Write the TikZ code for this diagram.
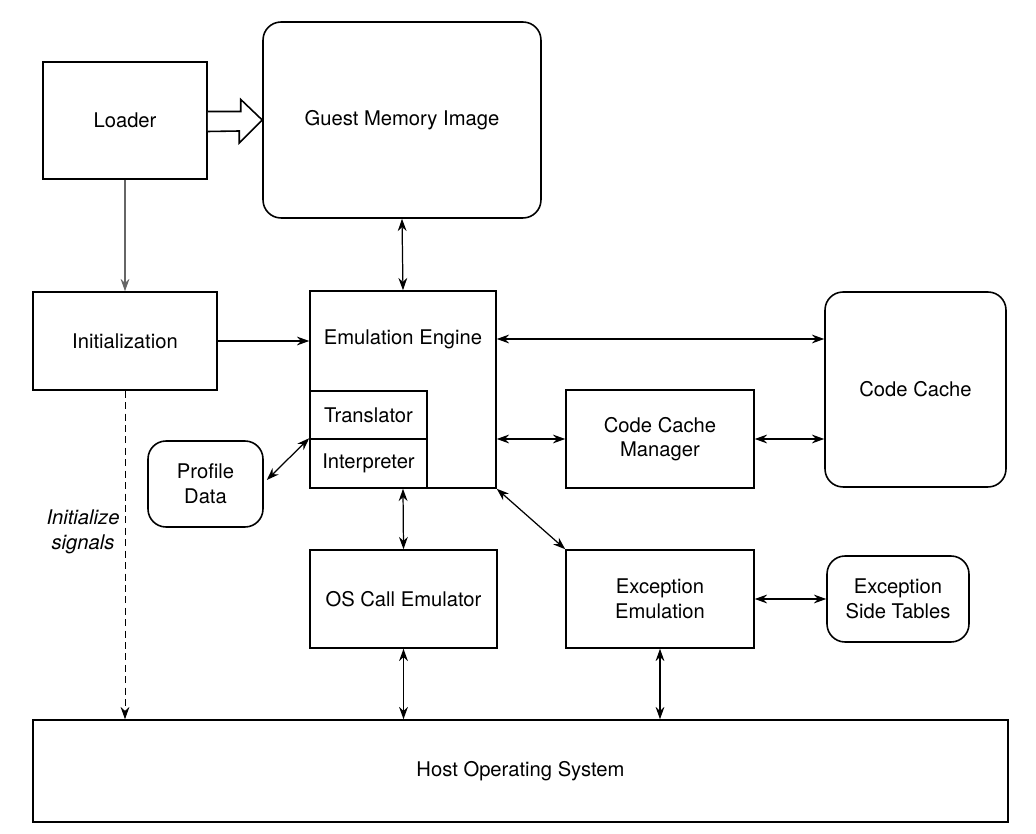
\documentclass[tikz,border=0pt]{standalone}
\usepackage{fontspec}
\setmainfont{TeX Gyre Heros}
\usetikzlibrary{arrows.meta,calc}
\begin{document}
\begin{tikzpicture}[x=0.02cm,y=-0.02cm,
  every node/.style={font=\fontsize{11.5}{14}\selectfont},
  box/.style={draw,line width=0.9pt,inner sep=0pt,align=center},
  rbox/.style={box,rounded corners=0.36cm},
  conn/.style={line width=0.7pt,{Stealth[length=7pt,width=5pt]}-{Stealth[length=7pt,width=5pt]}},
  oneway/.style={line width=0.7pt,-{Stealth[length=7pt,width=5pt]}}]
\useasboundingbox (0,0) rectangle (1036,834);
\node[box,minimum width=3.28cm,minimum height=2.34cm] (loader) at (125,120.5) {Loader};
\node[rbox,minimum width=5.56cm,minimum height=3.92cm] (gm) at (402,120) {Guest Memory Image};
\node[box,minimum width=3.68cm,minimum height=1.96cm] (init) at (125,341) {Initialization};
\node[box,minimum width=3.72cm,minimum height=3.94cm] (ee) at (403,389.5) {};
\node (eetext) at (403,339) {Emulation Engine};
\node[box,minimum width=2.34cm,minimum height=0.96cm] (trans) at (368.5,415) {Translator};
\node[box,minimum width=2.34cm,minimum height=0.98cm] (interp) at (368.5,463.5) {Interpreter};
\node[rbox,minimum width=3.62cm,minimum height=3.9cm] (cc) at (915.5,389.5) {Code Cache};
\node[box,minimum width=3.76cm,minimum height=1.96cm] (ccm) at (660,439) {Code Cache\\Manager};
\node[rbox,minimum width=2.3cm,minimum height=1.72cm] (pd) at (205.5,484) {Profile\\Data};
\node[box,minimum width=3.74cm,minimum height=1.96cm] (os) at (403.5,599) {OS Call Emulator};
\node[box,minimum width=3.76cm,minimum height=1.96cm] (exc) at (660,599) {Exception\\Emulation};
\node[rbox,minimum width=2.84cm,minimum height=1.72cm] (est) at (898,599) {Exception\\Side Tables};
\node[box,minimum width=19.5cm,minimum height=2.04cm] (host) at (520.5,771) {Host Operating System};
\node[align=center,font=\fontsize{11.5}{14.5}\selectfont\itshape] (sig) at (83,532) {Initialize\\signals};
% hollow arrow
\draw[line width=0.9pt,fill=white] ($(loader.east)+(0,-9)$) -- ++(33,0) -- ++(0,-12) -- (gm.west) -- ++(-23,23) -- ++(0,-12) -- ($(loader.east)+(0,11)$);
% connectors
\draw[oneway,draw=black!60] (loader.south) -- (init.north);
\draw[oneway] (init.east) -- (ee.west |- init.east);
\draw[conn] (gm.south) -- (ee.north);
\draw[conn] (ee.east |- eetext) -- (cc.west |- eetext);
\draw[conn] (ee.east |- ccm.west) -- (ccm.west);
\draw[conn] (ccm.east) -- (cc.west |- ccm.east);
\draw[conn] ($(pd.east)+(3,-4)$) -- (interp.north west);
\draw[conn] (ee.south) -- (os.north);
\draw[conn] (ee.south east) -- (exc.north west);
\draw[conn] (exc.east) -- (est.west);
\draw[conn] (os.south) -- (os.south |- host.north);
\draw[conn] (exc.south) -- (exc.south |- host.north);
\draw[oneway,line width=0.5pt,dash pattern=on 4pt off 2.5pt] (init.south) -- (init.south |- host.north);
\end{tikzpicture}
\end{document}
